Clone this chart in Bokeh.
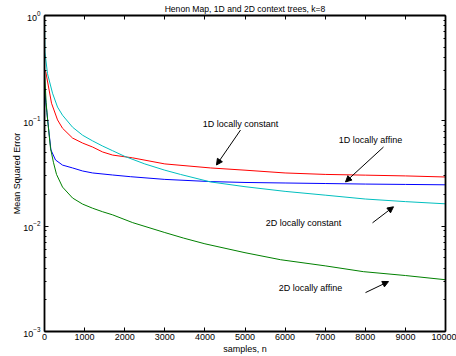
from bokeh.plotting import figure
from bokeh.models import (Range1d, FixedTicker, LinearAxis, LogAxis, Label, Arrow,
                          NormalHead, CustomJSTickFormatter)
from bokeh.embed import file_html
from bokeh.resources import INLINE

# ---- data ----
title_text = "Henon Map, 1D and 2D context trees, k=8"
x_label = "samples, n"
y_label = "Mean Squared Error"
x_ticks = [0, 1000, 2000, 3000, 4000, 5000, 6000, 7000, 8000, 9000, 10000]
y_ticks = [1e-3, 1e-2, 1e-1, 1e0]

red_n = [0, 33, 175, 325, 450, 700, 950, 1200, 1450, 1700, 2200, 3000, 4140, 5000, 6000, 7000, 8000, 9000, 10000]
red_v = [0.30, 0.29, 0.147, 0.102, 0.085, 0.0686, 0.0615, 0.0564, 0.0506, 0.0473, 0.0445, 0.039, 0.0357,
         0.034, 0.032, 0.031, 0.0305, 0.030, 0.0293]

blue_n = [0, 60, 125, 160, 275, 450, 700, 950, 1200, 1700, 2140, 3000, 4140, 5000, 6000, 7000, 8000, 9000, 10000]
blue_v = [0.20, 0.12, 0.070, 0.053, 0.0425, 0.038, 0.0357, 0.0334, 0.032, 0.0306, 0.0295, 0.0278, 0.0265,
          0.026, 0.0257, 0.0254, 0.0251, 0.0249, 0.0247]

cyan_n = [0, 10, 75, 200, 325, 450, 700, 950, 1200, 1450, 1700, 2000, 2500, 3000, 3390, 4140, 5000, 6000,
          7000, 8000, 9000, 10000]
cyan_v = [1.0, 0.45, 0.28, 0.183, 0.135, 0.113, 0.087, 0.073, 0.0645, 0.0576, 0.052, 0.046, 0.039, 0.034,
          0.031, 0.0263, 0.0237, 0.0214, 0.0197, 0.0181, 0.0171, 0.0163]

green_n = [0, 40, 80, 150, 225, 300, 450, 700, 950, 1200, 1450, 1700, 2200, 3000, 3470, 4000, 5000, 5890,
           7000, 7950, 9000, 10000]
green_v = [0.30, 0.15, 0.10, 0.055, 0.040, 0.031, 0.0235, 0.0185, 0.0162, 0.0148, 0.0137, 0.0128, 0.0108,
           0.0087, 0.0077, 0.0068, 0.0056, 0.0048, 0.0042, 0.0037, 0.0034, 0.0031]

note_text = ["1D locally constant", "1D locally affine", "2D locally constant", "2D locally affine"]
note_n = [4888, 8130, 6459, 6633]
note_v = [0.093, 0.0657, 0.01076, 0.00261]
arrow_n0 = [4888, 8454, 8180, 8005]
arrow_v0 = [0.0817, 0.0564, 0.01076, 0.00234]
arrow_n1 = [4289, 7506, 8703, 8579]
arrow_v1 = [0.0381, 0.0263, 0.01527, 0.00298]

FONT = "Liberation Sans"
FS = "9px"

p = figure(width=456, height=356, x_range=Range1d(0, 10000), y_range=Range1d(1e-3, 1),
           y_axis_type="log", output_backend="svg", toolbar_location=None,
           min_border_left=44, min_border_right=11, min_border_top=15, min_border_bottom=24)
p.grid.visible = False
p.outline_line_color = None
p.background_fill_color = "white"
p.border_fill_color = "white"

p.title.text = title_text
p.title.text_font = FONT
p.title.text_font_size = "8.6px"
p.title.text_font_style = "normal"
p.title.text_color = "black"
p.title.align = "center"
p.title.offset = 8
p.title.standoff = 3

p.line(red_n, red_v, line_color="#ff0000", line_width=1)
p.line(blue_n, blue_v, line_color="#0000ff", line_width=1)
p.line(cyan_n, cyan_v, line_color="#00bfbf", line_width=1)
p.line(green_n, green_v, line_color="#008000", line_width=1)

minor = [m * 10.0 ** e for e in (-3, -2, -1) for m in range(2, 10)]


def style(ax, labels=True):
    ax.axis_line_color = "black"
    ax.axis_line_width = 1.8
    ax.major_tick_in = 4
    ax.major_tick_out = 0
    ax.major_tick_line_color = "black"
    ax.minor_tick_line_color = "black"
    ax.major_label_text_font = FONT
    ax.major_label_text_font_size = FS
    ax.major_label_text_color = "black"
    ax.axis_label_text_font = FONT
    ax.axis_label_text_font_size = FS
    ax.axis_label_text_font_style = "normal"
    ax.axis_label_text_color = "black"
    if not labels:
        ax.formatter = CustomJSTickFormatter(code="return ''")
        ax.major_label_text_font_size = "0px"
        ax.major_label_standoff = 0


xa = p.xaxis[0]
xa.ticker = FixedTicker(ticks=x_ticks)
style(xa)
xa.minor_tick_in = 0
xa.minor_tick_out = 0
xa.major_label_standoff = 2
xa.axis_label = x_label
xa.axis_label_standoff = 1

ya = p.yaxis[0]
ya.ticker = FixedTicker(ticks=y_ticks, minor_ticks=minor)
style(ya)
ya.minor_tick_in = 2
ya.minor_tick_out = 0
ya.major_label_standoff = 4
ya.axis_label = y_label
ya.axis_label_standoff = -2

top = LinearAxis(ticker=FixedTicker(ticks=x_ticks))
style(top, labels=False)
top.minor_tick_in = 0
top.minor_tick_out = 0
p.add_layout(top, "above")

right = LogAxis(ticker=FixedTicker(ticks=y_ticks, minor_ticks=minor))
style(right, labels=False)
right.minor_tick_in = 2
right.minor_tick_out = 0
p.add_layout(right, "right")

for t, n, v in zip(note_text, note_n, note_v):
    p.add_layout(Label(x=n, y=v, text=t, text_align="center", text_baseline="middle",
                       text_font=FONT, text_font_size=FS, text_color="black"))

for n0, v0, n1, v1 in zip(arrow_n0, arrow_v0, arrow_n1, arrow_v1):
    p.add_layout(Arrow(end=NormalHead(size=6, fill_color="black", line_color="black", line_width=1),
                       x_start=n0, y_start=v0, x_end=n1, y_end=v1,
                       line_color="black", line_width=1))

open("out.html", "w").write(file_html(p, INLINE))
